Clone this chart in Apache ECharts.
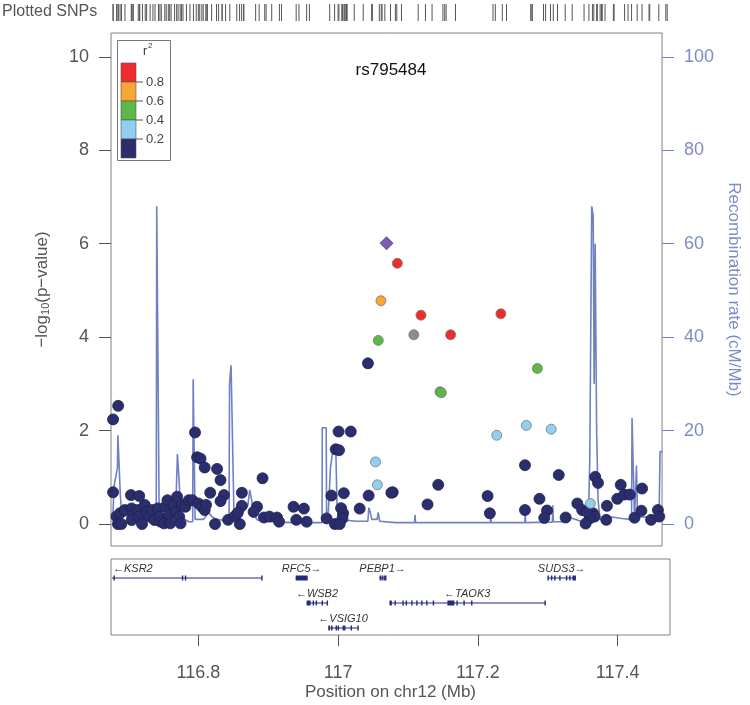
<!DOCTYPE html>
<html><head><meta charset="utf-8">
<script src="https://cdn.jsdelivr.net/npm/echarts@6/dist/echarts.min.js"></script>
<style>html,body{margin:0;padding:0;background:#fff}#c{width:750px;height:705px}</style>
</head><body><div id="c"></div>
<script>
// ---------------- data ----------------
const leadSnp = { name: 'rs795484', pos: 117.075, logp: 6.01 };

const snpPos = [
  117.0907, 117.0669, 117.1250, 117.2410, 117.1146, 117.1680, 117.0630, 117.2940,
  117.1526, 117.1546, 117.2350, 117.2780, 117.3140, 117.0590, 117.0617, 117.3710,
  117.048, 117.276, 117.325, 117.084, 117.150, 117.1345, 117.2217, 117.225,
  117.276, 117.297, 117.308, 117.304, 117.335, 117.352, 117.359, 117.378,
  117.382, 117.375, 117.377, 117.370, 117.366, 117.364, 117.395, 117.394,
  117.415, 117.410, 117.420, 117.428, 117.446, 117.435, 117.445, 117.459,
  117.469, 117.471, 116.6854, 116.678, 116.678, 116.704, 116.716, 116.797,
  116.800, 116.805, 116.811, 116.829, 116.834, 116.819, 116.839, 116.834,
  116.865, 116.895, 116.865, 116.887, 116.882, 117.0054, 117.0231, 117.0012,
  117.006, 116.995, 117.013, 117.049, 117.036, 117.082, 116.940, 116.955,
  116.944, 116.959, 117.009, 117.012, 117.011, 117.000, 117.007, 116.988,
  116.826, 116.862, 116.845, 116.855, 116.859, 116.897, 116.905, 116.916,
  116.919, 116.683, 116.688, 116.685, 116.690, 116.695, 116.705, 116.707,
  116.705, 116.714, 116.716, 116.720, 116.724, 116.726, 116.731, 116.735,
  116.738, 116.743, 116.745, 116.747, 116.752, 116.754, 116.757, 116.759,
  116.761, 116.766, 116.769, 116.771, 116.774, 116.776, 116.778, 116.783,
  116.788, 116.793, 116.802, 116.807, 116.811, 116.813
];
const snpLogP = [
  5.58, 4.78, 4.47, 4.50, 4.05, 4.05, 3.93, 3.33,
  2.83, 2.81, 1.90, 2.11, 2.03, 1.33, 0.84, 0.44,
  3.44, 1.26, 1.05, 0.68, 0.84, 0.42, 0.60, 0.23,
  0.30, 0.54, 0.29, 0.13, 0.14, 0.44, 0.30, 1.01,
  0.88, 0.23, 0.16, 0.12, 0.26, 0.01, 0.39, 0.09,
  0.84, 0.54, 0.63, 0.63, 0.76, 0.135, 0.285, 0.09,
  0.30, 0.16, 2.53, 2.24, 0.68, 0.62, 0.60, 1.96,
  1.43, 1.40, 1.21, 1.18, 0.94, 0.67, 0.62, 0.49,
  0.67, 0.98, 0.39, 0.37, 0.26, 1.98, 1.98, 1.60,
  1.58, 0.61, 0.66, 0.61, 0.33, 0.67, 0.37, 0.33,
  0.09, 0.05, 0.34, 0.23, 0.12, 0.00, 0.00, 0.12,
  0.00, 0.00, 0.09, 0.17, 0.24, 0.14, 0.16, 0.14,
  0.05, 0.16, 0.23, 0.00, 0.00, 0.30, 0.335, 0.19,
  0.086, 0.30, 0.16, 0.00, 0.41, 0.26, 0.16, 0.30,
  0.086, 0.335, 0.16, 0.05, 0.015, 0.37, 0.51, 0.19,
  0.015, 0.41, 0.26, 0.585, 0.16, 0.015, 0.41, 0.37,
  0.51, 0.51, 0.44, 0.37, 0.30, 0.41
];
const snpR2 = [
  0.85, 0.70, 0.85, 0.85, null, 0.85, 0.50, 0.50,
  0.50, 0.50, 0.30, 0.30, 0.30, 0.30, 0.30, 0.30,
  0.1, 0.1, 0.1, 0.1, 0.1, 0.1, 0.1, 0.1,
  0.1, 0.1, 0.1, 0.1, 0.1, 0.1, 0.1, 0.1,
  0.1, 0.1, 0.1, 0.1, 0.1, 0.1, 0.1, 0.1,
  0.1, 0.1, 0.1, 0.1, 0.1, 0.1, 0.1, 0.1,
  0.1, 0.1, 0.1, 0.1, 0.1, 0.1, 0.1, 0.1,
  0.1, 0.1, 0.1, 0.1, 0.1, 0.1, 0.1, 0.1,
  0.1, 0.1, 0.1, 0.1, 0.1, 0.1, 0.1, 0.1,
  0.1, 0.1, 0.1, 0.1, 0.1, 0.1, 0.1, 0.1,
  0.1, 0.1, 0.1, 0.1, 0.1, 0.1, 0.1, 0.1,
  0.1, 0.1, 0.1, 0.1, 0.1, 0.1, 0.1, 0.1,
  0.1, 0.1, 0.1, 0.1, 0.1, 0.1, 0.1, 0.1,
  0.1, 0.1, 0.1, 0.1, 0.1, 0.1, 0.1, 0.1,
  0.1, 0.1, 0.1, 0.1, 0.1, 0.1, 0.1, 0.1,
  0.1, 0.1, 0.1, 0.1, 0.1, 0.1, 0.1, 0.1,
  0.1, 0.1, 0.1, 0.1, 0.1, 0.1
];

// [position (Mb), recombination rate (cM/Mb)]
const recombination = [
  [116.675, 2], [116.678, 2.5], [116.6793, 8], [116.6821, 8], [116.6843, 12], [116.685, 19],
  [116.6871, 19], [116.6886, 6], [116.6907, 2], [116.7021, 1.5], [116.7164, 1], [116.7307, 1.5],
  [116.7407, 1], [116.7414, 68], [116.7443, 68], [116.745, 1], [116.7593, 1], [116.7686, 2],
  [116.77, 8], [116.7714, 15], [116.7736, 10], [116.7764, 1.5], [116.7879, 0.5], [116.7936, 0.5],
  [116.7943, 31], [116.7964, 31], [116.7971, 1], [116.8093, 1], [116.8164, 2.5], [116.8221, 1.5],
  [116.8279, 1], [116.8379, 0.8], [116.8464, 1], [116.8471, 30], [116.8493, 34], [116.8521, 34],
  [116.8536, 1.5], [116.8593, 1], [116.8736, 4], [116.8764, 7.3], [116.8793, 5], [116.8821, 2],
  [116.8879, 0.8], [116.9164, 0.4], [116.945, 0.3], [116.9814, 0.3], [116.9817, 20.6], [116.9874, 20.6],
  [116.988, 0.5], [116.9907, 3], [116.9936, 12], [116.9964, 15], [116.9993, 17], [117.0014, 16],
  [117.0029, 5], [117.005, 1], [117.0307, 0.6], [117.0479, 0.6], [117.0493, 3.5], [117.0514, 2.5],
  [117.0536, 1], [117.0614, 1], [117.0629, 2.5], [117.065, 0.6], [117.0879, 0.3], [117.1157, 0.3],
  [117.1164, 2], [117.1171, 0.3], [117.145, 0.3], [117.1879, 0.3], [117.2257, 0.3], [117.2264, 2],
  [117.2271, 0.3], [117.2757, 0.3], [117.2764, 2], [117.2771, 0.3], [117.3157, 0.4], [117.3164, 4],
  [117.3171, 0.5], [117.3379, 0.5], [117.3386, 1.5], [117.3593, 0.5], [117.3679, 1], [117.37, 13],
  [117.3721, 13], [117.3729, 68], [117.375, 66], [117.3764, 30], [117.3779, 60], [117.38, 20],
  [117.3821, 5], [117.385, 1], [117.4021, 1.5], [117.4164, 1.2], [117.4307, 1], [117.4314, 22.7],
  [117.4343, 22.5], [117.435, 1], [117.4371, 1], [117.4379, 12.5], [117.4393, 1.5], [117.4521, 1.5],
  [117.4693, 1], [117.4707, 2], [117.4721, 15.5], [117.475, 15.5]
];

const genes = [
  { name: 'KSR2', strand: '-', row: 0, start: 116.40, end: 116.8907,
    exons: [[116.4, 116.401], [116.6786, 116.6793], [116.7764, 116.7771], [116.7807, 116.7814], [116.8900, 116.8907]] },
  { name: 'RFC5', strand: '+', row: 0, start: 116.9393, end: 116.9564,
    exons: [[116.9393, 116.9564]] },
  { name: 'WSB2', strand: '-', row: 1, start: 116.955, end: 116.9846,
    exons: [[116.955, 116.9607], [116.9636, 116.9643], [116.9679, 116.9686], [116.9764, 116.9771], [116.9836, 116.9846]] },
  { name: 'VSIG10', strand: '-', row: 2, start: 116.986, end: 117.0283,
    exons: [[116.986, 116.9886], [116.99, 116.9921], [116.9964, 116.9971], [116.9993, 117.0], [117.0064, 117.0071], [117.0086, 117.0093], [117.0179, 117.0186], [117.0276, 117.0283]] },
  { name: 'PEBP1', strand: '+', row: 0, start: 117.0593, end: 117.0679,
    exons: [[117.0593, 117.06], [117.0621, 117.0628], [117.065, 117.0657], [117.0672, 117.0679]] },
  { name: 'TAOK3', strand: '-', row: 1, start: 117.0736, end: 117.296,
    exons: [[117.0736, 117.0769], [117.0807, 117.0814], [117.0921, 117.0928], [117.0967, 117.0974], [117.1046, 117.1053], [117.1117, 117.1124], [117.1189, 117.1196], [117.126, 117.1267], [117.1354, 117.1361], [117.1564, 117.1664], [117.1693, 117.17], [117.1793, 117.18], [117.1903, 117.191], [117.2953, 117.296]] },
  { name: 'SUDS3', strand: '+', row: 0, start: 117.2997, end: 117.3403,
    exons: [[117.2997, 117.3004], [117.3046, 117.3053], [117.3093, 117.31], [117.3164, 117.3171], [117.326, 117.3267], [117.3307, 117.3314], [117.3354, 117.3403]] }
];

const xRange = [116.675, 117.475];
const xTicks = [116.8, 117, 117.2, 117.4];
const yTicks = [0, 2, 4, 6, 8, 10];
const recTicks = [0, 20, 40, 60, 80, 100];
const r2LegendLabels = ['0.8', '0.6', '0.4', '0.2'];

// ---------------- styling ----------------
const COL = { red: '#ee2c2c', orange: '#f8a634', green: '#5db947', lblue: '#91cff0', navy: '#2b2e6c', grey: '#8c8c8c', purple: '#7e5cb4' };
const legendColors = [COL.red, COL.orange, COL.green, COL.lblue, COL.navy];
const FONT = 'Liberation Sans';
const RECCOL = '#6f80c4';
const GENECOL = '#25297c';
function r2Color(r) {
  if (r === null || r === undefined) return COL.grey;
  if (r >= 0.8) return COL.red;
  if (r >= 0.6) return COL.orange;
  if (r >= 0.4) return COL.green;
  if (r >= 0.2) return COL.lblue;
  return COL.navy;
}

const snpData = snpPos.map((p, i) => ({ p, y: snpLogP[i], r: snpR2[i] }))
  .sort((a, b) => ((a.r === null ? 0.15 : a.r) - (b.r === null ? 0.15 : b.r)))
  .map(d => {
    const c = r2Color(d.r);
    const navy = c === COL.navy;
    return {
      value: [d.p, d.y],
      symbolSize: navy ? 11 : 10,
      itemStyle: { color: c, borderColor: navy ? '#1e2050' : '#777', borderWidth: 0.8, opacity: 1 }
    };
  });

const rugPos = snpPos.concat([leadSnp.pos]);

const measureCtx = document.createElement('canvas').getContext('2d');
measureCtx.font = 'italic 11px "' + FONT + '"';

const chart = echarts.init(document.getElementById('c'), null, { renderer: 'canvas' });

const legendGraphics = [];
const lgX = 117, lgY = 40, segH = 19;
legendGraphics.push({ type: 'rect', shape: { x: lgX + 0.5, y: lgY + 0.5, width: 53, height: 120 }, style: { fill: '#fff', stroke: '#777', lineWidth: 1 }, z: 50 });
legendGraphics.push({ type: 'text', style: { text: 'r', x: 143, y: 52, font: '12px "' + FONT + '"', fill: '#333', verticalAlign: 'middle' }, z: 51 });
legendGraphics.push({ type: 'text', style: { text: '2', x: 148, y: 46, font: '8px "' + FONT + '"', fill: '#333', verticalAlign: 'middle' }, z: 51 });
legendColors.forEach((c, i) => {
  legendGraphics.push({ type: 'rect', shape: { x: 121, y: 63 + i * segH, width: 15, height: segH }, style: { fill: c, stroke: '#555', lineWidth: 0.6 }, z: 51 });
});
r2LegendLabels.forEach((t, i) => {
  const yy = 63 + (i + 1) * segH;
  legendGraphics.push({ type: 'line', shape: { x1: 136, y1: yy, x2: 143, y2: yy }, style: { stroke: '#555', lineWidth: 1 }, z: 51 });
  legendGraphics.push({ type: 'text', style: { text: t, x: 146, y: yy, font: '13px "' + FONT + '"', fill: '#444', verticalAlign: 'middle' }, z: 51 });
});

const option = {
  animation: false,
  backgroundColor: '#fff',
  textStyle: { fontFamily: FONT },
  graphic: [
    { type: 'text', left: 2, top: 4, style: { text: 'Plotted SNPs', font: '16px "' + FONT + '"', fill: '#555' } },
    { type: 'text', style: { text: leadSnp.name, x: 391, y: 70, align: 'center', verticalAlign: 'middle', font: '17px "' + FONT + '"', fill: '#111' }, z: 40 }
  ].concat(legendGraphics),
  grid: [
    { left: 111, top: 33, width: 559, height: 513, show: true, borderColor: '#808080', borderWidth: 1, backgroundColor: '#fff' },
    { left: 111, top: 559, width: 559, height: 76, show: true, borderColor: '#808080', borderWidth: 1, backgroundColor: '#fff' },
    { left: 111, top: 4, width: 559, height: 17 }
  ],
  xAxis: [
    { type: 'value', gridIndex: 0, min: xRange[0], max: xRange[1], show: false },
    { type: 'value', gridIndex: 1, min: xRange[0], max: xRange[1], position: 'bottom',
      axisLine: { show: false, onZero: false }, splitLine: { show: false },
      axisTick: { show: true, length: 11, lineStyle: { color: '#555' }, customValues: xTicks },
      axisLabel: { customValues: xTicks, fontSize: 18, color: '#555', margin: 29, formatter: v => String(+v.toFixed(1)) },
      name: 'Position on chr12 (Mb)', nameLocation: 'middle', nameGap: 49,
      nameTextStyle: { fontSize: 17, color: '#555' } },
    { type: 'value', gridIndex: 2, min: xRange[0], max: xRange[1], show: false }
  ],
  yAxis: [
    { type: 'value', gridIndex: 0, min: -0.47, max: 10.51, position: 'left',
      axisLine: { show: false, onZero: false }, splitLine: { show: false },
      axisTick: { show: true, length: 12, lineStyle: { color: '#555' }, customValues: yTicks },
      axisLabel: { customValues: yTicks, fontSize: 18, color: '#555', margin: 22 },
      name: '{a|−log}{b|10}{a|(p−value)}', nameLocation: 'middle', nameGap: 60, nameRotate: 90,
      nameTextStyle: { color: '#555', rich: { a: { fontSize: 17, color: '#555' }, b: { fontSize: 11, color: '#555', padding: [7, 0, 0, 0] } } } },
    { type: 'value', gridIndex: 0, min: -4.7, max: 105.1, position: 'right',
      axisLine: { show: false, onZero: false }, splitLine: { show: false },
      axisTick: { show: true, length: 12, lineStyle: { color: RECCOL }, customValues: recTicks },
      axisLabel: { customValues: recTicks, fontSize: 18, color: '#7d8bc8', margin: 22 },
      name: 'Recombination rate (cM/Mb)', nameLocation: 'middle', nameGap: 58, nameRotate: -90,
      nameTextStyle: { fontSize: 17, color: '#7d8bc8' } },
    { type: 'value', gridIndex: 1, min: -0.76, max: 2.28, inverse: true, show: false },
    { type: 'value', gridIndex: 2, min: 0, max: 1, show: false }
  ],
  series: [
    { type: 'line', xAxisIndex: 0, yAxisIndex: 1, data: recombination, showSymbol: false, symbol: 'none',
      lineStyle: { color: RECCOL, width: 1.6 }, z: 2, clip: true, silent: true },
    { type: 'scatter', xAxisIndex: 0, yAxisIndex: 0, data: snpData, symbol: 'circle', symbolSize: 10, z: 3, clip: true },
    { type: 'scatter', xAxisIndex: 0, yAxisIndex: 0, data: [[leadSnp.pos, leadSnp.logp]], symbol: 'diamond', symbolSize: [13, 13],
      itemStyle: { color: COL.purple, borderColor: '#4a3580', borderWidth: 0.8, opacity: 1 }, z: 4 },
    { type: 'custom', xAxisIndex: 2, yAxisIndex: 3, data: rugPos.map(p => [p]), encode: { x: 0 },
      renderItem: function (params, api) {
        const cs = params.coordSys;
        const x = api.coord([api.value(0), 0])[0];
        return { type: 'line', shape: { x1: x, y1: cs.y, x2: x, y2: cs.y + cs.height }, style: { stroke: '#555', lineWidth: 1 } };
      } },
    { type: 'custom', xAxisIndex: 1, yAxisIndex: 2, data: genes.map(g => [g.start, g.end, g.row]), encode: { x: [0, 1], y: 2 },
      renderItem: function (params, api) {
        const g = genes[params.dataIndex];
        const cs = params.coordSys;
        const y = api.coord([g.start, g.row])[1];
        const xs = api.coord([g.start, g.row])[0];
        const xe = api.coord([g.end, g.row])[0];
        const shapes = [{ type: 'line', shape: { x1: xs, y1: y, x2: xe, y2: y }, style: { stroke: GENECOL, lineWidth: 1 } }];
        g.exons.forEach(function (e) {
          const xa = api.coord([e[0], g.row])[0], xb = api.coord([e[1], g.row])[0];
          const w = Math.max(xb - xa, 1.4);
          shapes.push({ type: 'rect', shape: { x: xa, y: y - 2.5, width: w, height: 5 }, style: { fill: GENECOL } });
        });
        const label = g.strand === '+' ? g.name + '\u2192' : '\u2190' + g.name;
        const tw = measureCtx.measureText(label).width;
        let cx = (xs + xe) / 2;
        cx = Math.max(cx, cs.x + tw / 2 + 2);
        cx = Math.min(cx, cs.x + cs.width - tw / 2 - 2);
        return { type: 'group', children: [
          { type: 'group', children: shapes, clipPath: { type: 'rect', shape: { x: cs.x + 1, y: cs.y, width: cs.width - 2, height: cs.height } } },
          { type: 'text', style: { text: label, x: cx, y: y - 9, align: 'center', verticalAlign: 'middle', font: 'italic 11px "' + FONT + '"', fill: '#333' } }
        ] };
      } }
  ]
};
chart.setOption(option);
</script>
</body></html>
